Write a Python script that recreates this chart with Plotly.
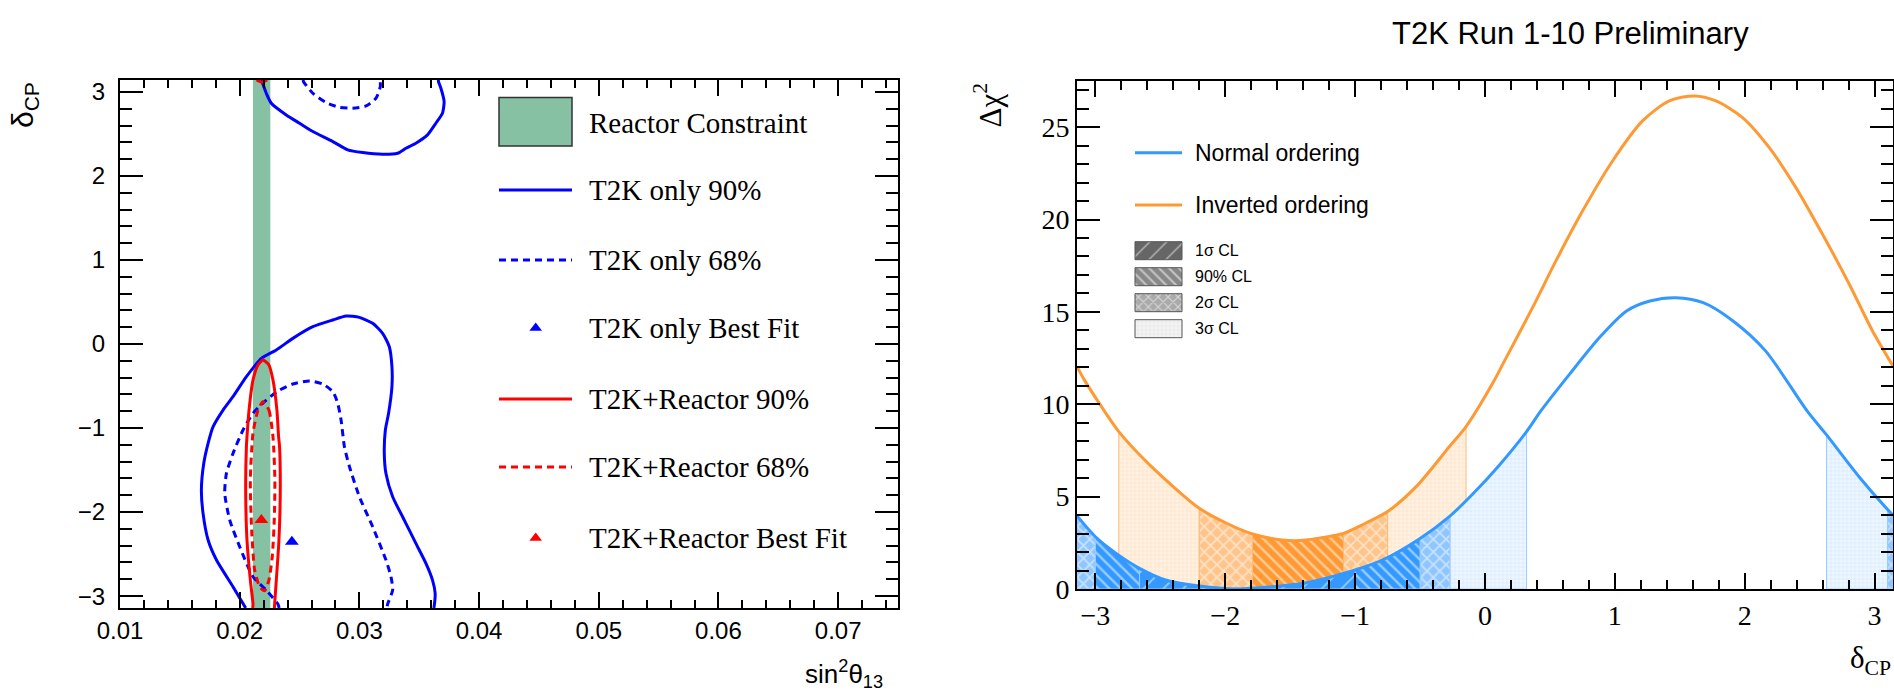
import numpy as np
import plotly.graph_objects as go

PI = np.pi

# ---------------- Left panel data: sin^2(theta13) vs delta_CP contours ----------------
reactor_band = [0.02111, 0.02256]  # sin^2 theta13 reactor constraint range

t2k90_upper_x = [0.0218, 0.02186, 0.02222, 0.02264, 0.02389, 0.025, 0.02611, 0.02778, 0.02903, 0.03028,
                 0.03194, 0.03319, 0.03389, 0.03472, 0.03569, 0.03639, 0.03694, 0.03708, 0.03681, 0.03661, 0.0366]
t2k90_upper_y = [3.1416, 3.123, 2.984, 2.865, 2.726, 2.627, 2.528, 2.409, 2.31, 2.278,
                 2.258, 2.270, 2.329, 2.389, 2.488, 2.627, 2.746, 2.885, 3.044, 3.123, 3.1416]

t2k90_lower_x = [0.0205, 0.01944, 0.01806, 0.01736, 0.01694, 0.0168, 0.017, 0.01736, 0.01778, 0.01861,
                 0.01944, 0.02056, 0.02181, 0.02306, 0.02444, 0.02611, 0.02778, 0.02889, 0.03,
                 0.03111, 0.03194, 0.0325, 0.03272, 0.03272, 0.03244, 0.03217, 0.03208, 0.03222, 0.03278,
                 0.03375, 0.03472, 0.03556, 0.03611, 0.03633, 0.03625, 0.03622]
t2k90_lower_y = [-3.1416, -2.889, -2.571, -2.333, -2.016, -1.738, -1.42, -1.183, -0.984, -0.786,
                 -0.627, -0.389, -0.171, -0.071, 0.067, 0.206, 0.286, 0.333, 0.317,
                 0.246, 0.127, -0.032, -0.27, -0.508, -0.825, -1.024, -1.302, -1.54, -1.817,
                 -2.095, -2.373, -2.611, -2.81, -2.968, -3.119, -3.1416]

t2k68_upper_x = [0.0253, 0.02533, 0.02611, 0.02722, 0.02833, 0.02944, 0.03056, 0.03139, 0.03175, 0.03175, 0.03175]
t2k68_upper_y = [3.1416, 3.123, 2.984, 2.873, 2.817, 2.806, 2.833, 2.925, 3.063, 3.123, 3.1416]

t2k68_lower_x = [0.0233, 0.02319, 0.02222, 0.02111, 0.02, 0.01917, 0.01875, 0.01889, 0.01944, 0.02028,
                 0.02111, 0.02222, 0.02333, 0.02444, 0.02583, 0.02694, 0.02778, 0.02819, 0.02847, 0.02875,
                 0.02917, 0.03, 0.03111, 0.03222, 0.03264, 0.03278, 0.03236, 0.0323]
t2k68_lower_y = [-3.1416, -3.095, -2.929, -2.77, -2.413, -2.095, -1.778, -1.54, -1.302, -1.024,
                 -0.825, -0.667, -0.548, -0.476, -0.44, -0.476, -0.567, -0.706, -0.905, -1.222,
                 -1.46, -1.817, -2.175, -2.571, -2.77, -2.929, -3.095, -3.1416]

rea90_x = [0.02108, 0.02111, 0.02089, 0.02061, 0.0205, 0.02056, 0.02061, 0.02078, 0.02111, 0.02153, 0.02194,
           0.02244, 0.02278, 0.02311, 0.02325, 0.02333, 0.02339, 0.02328, 0.02306, 0.02292, 0.0229]
rea90_y = [-3.1416, -3.095, -2.81, -2.333, -1.738, -1.222, -1.103, -0.786, -0.429, -0.25, -0.19,
           -0.25, -0.429, -0.786, -1.103, -1.222, -1.738, -2.333, -2.81, -3.095, -3.1416]
rea90_top_x = [0.0214, 0.02185, 0.0223]
rea90_top_y = [3.1416, 3.115, 3.1416]

rea68_x = [0.02194, 0.02244, 0.02278, 0.02294, 0.02289, 0.02272, 0.02244, 0.02208, 0.02167, 0.02125,
           0.021, 0.02089, 0.02111, 0.02153, 0.02194]
rea68_y = [-0.687, -0.786, -1.103, -1.619, -2.095, -2.532, -2.81, -2.937, -2.889, -2.69,
           -2.214, -1.619, -1.063, -0.786, -0.687]

bf_t2k = (0.02436, -2.353)
bf_rea = (0.02181, -2.095)

# ---------------- Right panel data: delta chi^2 vs delta_CP ----------------
no_dcp = [-3.1416, -3.0, -2.84, -2.66, -2.46, -2.2, -1.92, -1.69, -1.4, -1.2, -1.0, -0.79, -0.5, -0.27,
          -0.1, 0.11, 0.32, 0.43, 0.65, 0.88, 1.09, 1.27, 1.47, 1.68, 1.91, 2.16, 2.48, 2.63, 2.88, 3.10, 3.1416]
no_chi2 = [3.95, 2.83, 1.93, 1.12, 0.49, 0.16, 0.0, 0.09, 0.31, 0.63, 1.03, 1.57, 2.74, 3.95,
           5.1, 6.7, 8.52, 9.64, 11.62, 13.6, 15.05, 15.59, 15.77, 15.5, 14.51, 12.89, 9.64, 8.34, 6.08, 4.3, 4.0]

io_dcp = [-3.1416, -3.085, -2.97, -2.82, -2.58, -2.2, -1.99, -1.79, -1.56, -1.43, -1.09, -0.92, -0.75,
          -0.53, -0.275, -0.146, 0.072, 0.136, 0.366, 0.546, 0.752, 0.982, 1.213, 1.419, 1.611, 1.778,
          1.983, 2.189, 2.394, 2.599, 2.805, 2.984, 3.1416]
io_chi2 = [12.04, 11.32, 10.05, 8.52, 6.71, 4.37, 3.56, 2.98, 2.65, 2.62, 3.01, 3.56, 4.19,
           5.54, 7.7, 8.79, 11.3, 12.16, 15.23, 17.76, 20.47, 23.17, 25.34, 26.42, 26.69, 26.42,
           25.52, 23.89, 21.73, 19.2, 16.5, 13.97, 12.07]

no_regions = {
    "1s": [(-2.66, -1.0)],
    "90": [(-3.0, -2.66), (-1.0, -0.5)],
    "2s": [(-3.1416, -3.0), (-0.5, -0.27), (3.10, 3.1416)],
    "3s": [(-0.27, 0.32), (2.63, 3.10)],
}
io_regions = {
    "90": [(-1.79, -1.09)],
    "2s": [(-2.2, -1.79), (-1.09, -0.75)],
    "3s": [(-2.82, -2.2), (-0.75, -0.146)],
}

cl_labels = ["1σ CL", "90% CL", "2σ CL", "3σ CL"]
left_legend_labels = ["Reactor Constraint", "T2K only 90%", "T2K only 68%", "T2K only Best Fit",
                      "T2K+Reactor 90%", "T2K+Reactor 68%", "T2K+Reactor Best Fit"]
right_legend_labels = ["Normal ordering", "Inverted ordering"]

# ---------------- styles ----------------
W, H = 1894, 695
BLUE = "#0000ff"
RED = "#ff0000"
GREEN = "#86c1a3"
NO_C = "#3399ff"
IO_C = "#ff9933"
SANS = "Liberation Sans, Arial, sans-serif"
SERIF = "Liberation Serif, Times New Roman, serif"
DASH = "7px,5px"

pattern_style = {
    "NO": {
        "1s": dict(shape="/", bgcolor=NO_C, fgcolor="white", size=14, solidity=0.12),
        "90": dict(shape="\\", bgcolor=NO_C, fgcolor="white", size=8, solidity=0.3),
        "2s": dict(shape="x", bgcolor="#8fc6ff", fgcolor="white", size=9, solidity=0.35),
        "3s": dict(shape="+", bgcolor="#eef6ff", fgcolor="#b0d6ff", size=4, solidity=0.25),
    },
    "IO": {
        "90": dict(shape="\\", bgcolor=IO_C, fgcolor="white", size=8, solidity=0.3),
        "2s": dict(shape="x", bgcolor="#ffc48a", fgcolor="white", size=9, solidity=0.35),
        "3s": dict(shape="+", bgcolor="#fff2e4", fgcolor="#ffca96", size=4, solidity=0.25),
    },
}
edge_color = {"NO": "#99ccff", "IO": "#ffbb77"}

fig = go.Figure()

# ---- left panel ----
bx = [reactor_band[0], reactor_band[1], reactor_band[1], reactor_band[0], reactor_band[0]]
by = [-PI, -PI, PI, PI, -PI]
fig.add_trace(go.Scatter(x=bx, y=by, fill="toself", fillcolor=GREEN, mode="none",
                         xaxis="x", yaxis="y", showlegend=False, hoverinfo="skip"))

def contour(xs, ys, color, dash=None):
    fig.add_trace(go.Scatter(x=xs, y=ys, mode="lines", xaxis="x", yaxis="y",
                             line=dict(color=color, width=3, dash=dash, shape="spline", smoothing=0.6),
                             showlegend=False, hoverinfo="skip"))

contour(t2k90_upper_x, t2k90_upper_y, BLUE)
contour(t2k90_lower_x, t2k90_lower_y, BLUE)
contour(t2k68_upper_x, t2k68_upper_y, BLUE, DASH)
contour(t2k68_lower_x, t2k68_lower_y, BLUE, DASH)
contour(rea90_x, rea90_y, RED)
contour(rea90_top_x, rea90_top_y, RED)
contour(rea68_x, rea68_y, RED, DASH)
fig.add_trace(go.Scatter(x=[bf_t2k[0]], y=[bf_t2k[1]], mode="markers", xaxis="x", yaxis="y",
                         marker=dict(symbol="triangle-up", size=12, color=BLUE), showlegend=False))
fig.add_trace(go.Scatter(x=[bf_rea[0]], y=[bf_rea[1]], mode="markers", xaxis="x", yaxis="y",
                         marker=dict(symbol="triangle-up", size=12, color=RED), showlegend=False))

# ---- right panel regions ----
def region_traces(dcp, chi2, regions, key):
    d = np.array(dcp)
    c = np.array(chi2)
    for lvl in ["3s", "2s", "90", "1s"]:
        for (a, b) in regions.get(lvl, []):
            m = (d >= a - 1e-6) & (d <= b + 1e-6)
            xs = [a] + list(d[m]) + [b, a]
            ys = [0] + list(c[m]) + [0, 0]
            fig.add_trace(go.Scatter(x=xs, y=ys, fill="toself", mode="lines",
                                     line=dict(color=edge_color[key], width=1),
                                     fillcolor=pattern_style[key][lvl]["bgcolor"],
                                     fillpattern=pattern_style[key][lvl],
                                     xaxis="x2", yaxis="y2", showlegend=False, hoverinfo="skip"))

region_traces(io_dcp, io_chi2, io_regions, "IO")
region_traces(no_dcp, no_chi2, no_regions, "NO")

fig.add_trace(go.Scatter(x=io_dcp, y=io_chi2, mode="lines", xaxis="x2", yaxis="y2",
                         line=dict(color=IO_C, width=3, shape="spline", smoothing=0.8),
                         showlegend=False, name=right_legend_labels[1]))
fig.add_trace(go.Scatter(x=no_dcp, y=no_chi2, mode="lines", xaxis="x2", yaxis="y2",
                         line=dict(color=NO_C, width=3, shape="spline", smoothing=0.8),
                         showlegend=False, name=right_legend_labels[0]))

# ---- overlay pixel axes for legends / titles ----
shapes = []
annotations = []

def ann(x, y, text, font, xanchor="left", yanchor="middle", angle=0):
    annotations.append(dict(x=x, y=y, xref="x3", yref="y3", text=text, showarrow=False,
                            font=font, xanchor=xanchor, yanchor=yanchor, textangle=angle))

# left legend
ll_y = [122.7, 190, 260, 328, 399, 467, 538]
lx0, lx1, ltx = 499, 572, 587
shapes.append(dict(type="rect", xref="x3", yref="y3", x0=lx0, x1=lx1, y0=97.5, y1=146,
                   fillcolor=GREEN, line=dict(color="#333333", width=1.5), layer="above"))
for i, (col, dash) in zip([1, 2, 4, 5], [(BLUE, None), (BLUE, DASH), (RED, None), (RED, DASH)]):
    shapes.append(dict(type="line", xref="x3", yref="y3", x0=lx0, x1=lx1, y0=ll_y[i], y1=ll_y[i],
                       line=dict(color=col, width=3, dash=dash), layer="above"))
fig.add_trace(go.Scatter(x=[535.7, 535.7], y=[ll_y[3], ll_y[6]], mode="markers", xaxis="x3", yaxis="y3",
                         marker=dict(symbol="triangle-up", size=11, color=[BLUE, RED]),
                         showlegend=False, hoverinfo="skip"))
for lab, yy in zip(left_legend_labels, ll_y):
    ann(ltx, yy, lab, dict(family=SERIF, size=29, color="black"))

# right legend
rl_y = [152.7, 205]
rx0, rx1, rtx = 1135, 1182, 1193
for col, yy, lab in zip([NO_C, IO_C], rl_y, right_legend_labels):
    shapes.append(dict(type="line", xref="x3", yref="y3", x0=rx0, x1=rx1, y0=yy, y1=yy,
                       line=dict(color=col, width=3), layer="above"))
    ann(rtx, yy, lab, dict(family=SANS, size=23, color="black"))

cl_y = [250.7, 276.7, 302.7, 328.7]
cl_pat = [dict(shape="/", bgcolor="#666666", fgcolor="white", size=12, solidity=0.12),
          dict(shape="\\", bgcolor="#888888", fgcolor="white", size=7, solidity=0.3),
          dict(shape="x", bgcolor="#aaaaaa", fgcolor="white", size=7, solidity=0.3),
          dict(shape="+", bgcolor="#f4f4f4", fgcolor="#cccccc", size=4, solidity=0.25)]
for yy, pat, lab in zip(cl_y, cl_pat, cl_labels):
    fig.add_trace(go.Scatter(x=[rx0, rx1, rx1, rx0, rx0], y=[yy - 9, yy - 9, yy + 9, yy + 9, yy - 9],
                             fill="toself", mode="lines", line=dict(color="#555555", width=1),
                             fillcolor=pat["bgcolor"], fillpattern=pat,
                             xaxis="x3", yaxis="y3", showlegend=False, hoverinfo="skip"))
    ann(rtx, yy, lab, dict(family=SANS, size=16, color="black"))

# axis titles
ann(24, 80, "δ<sub>CP</sub>", dict(family=SANS, size=30, color="black"), xanchor="center", yanchor="top", angle=-90)
ann(844, 674, "sin<sup>2</sup>θ<sub>13</sub>", dict(family=SANS, size=26, color="black"), xanchor="center")
ann(988, 81, "Δχ<sup>2</sup>", dict(family=SERIF, size=31, color="black"), xanchor="center", yanchor="top", angle=-90)
ann(1870, 660, "δ<sub>CP</sub>", dict(family=SERIF, size=31, color="black"), xanchor="center")
ann(1570, 33, "T2K Run 1-10 Preliminary",
    dict(family="Liberation Sans Narrow, Arial Narrow, Liberation Sans", size=31, color="black"),
    xanchor="center")

# ---------------- axes ----------------
def ax_common(**kw):
    d = dict(showline=True, linecolor="black", linewidth=2, mirror="allticks", ticks="inside",
             tickcolor="black", tickwidth=1.5, showgrid=False, zeroline=False, automargin=False)
    d.update(kw)
    return d

fig.update_layout(
    width=W, height=H, autosize=False,
    margin=dict(l=0, r=0, t=0, b=0, pad=0),
    paper_bgcolor="white", plot_bgcolor="rgba(0,0,0,0)",
    showlegend=False,
    xaxis=ax_common(domain=[120 / W, 898 / W], range=[0.01, 0.075], anchor="y",
                    tickvals=[0.01, 0.02, 0.03, 0.04, 0.05, 0.06, 0.07],
                    ticktext=["0.01", "0.02", "0.03", "0.04", "0.05", "0.06", "0.07"],
                    ticklen=16, tickfont=dict(family=SANS, size=24, color="black"),
                    minor=dict(dtick=0.002, tick0=0.01, ticklen=8, ticks="inside", tickcolor="black", tickwidth=1.5)),
    yaxis=ax_common(domain=[1 - 608 / H, 1 - 80 / H], range=[-PI, PI], anchor="x",
                    tickvals=[-3, -2, -1, 0, 1, 2, 3], ticklen=23, ticklabelstandoff=8,
                    tickfont=dict(family=SANS, size=24, color="black"),
                    minor=dict(dtick=0.2, tick0=0, ticklen=12, ticks="inside", tickcolor="black", tickwidth=1.5)),
    xaxis2=ax_common(domain=[1077 / W, 1893 / W], range=[-PI, PI], anchor="y2",
                     tickvals=[-3, -2, -1, 0, 1, 2, 3], ticklen=16,
                     tickfont=dict(family=SERIF, size=28, color="black"),
                     minor=dict(dtick=0.2, tick0=0, ticklen=9, ticks="inside", tickcolor="black", tickwidth=1.5)),
    yaxis2=ax_common(domain=[1 - 589 / H, 1 - 81 / H], range=[0, 27.5], anchor="x2",
                     tickvals=[0, 5, 10, 15, 20, 25], ticklen=23,
                     tickfont=dict(family=SERIF, size=28, color="black"),
                     minor=dict(dtick=1, tick0=0, ticklen=12, ticks="inside", tickcolor="black", tickwidth=1.5)),
    xaxis3=dict(domain=[0, 1], range=[0, W], anchor="y3", visible=False, showticklabels=False,
                showgrid=False, zeroline=False, automargin=False, fixedrange=True),
    yaxis3=dict(domain=[0, 1], range=[H, 0], anchor="x3", visible=False, showticklabels=False,
                showgrid=False, zeroline=False, automargin=False, fixedrange=True),
    shapes=shapes,
    annotations=annotations,
)

fig.write_html("out.html")
